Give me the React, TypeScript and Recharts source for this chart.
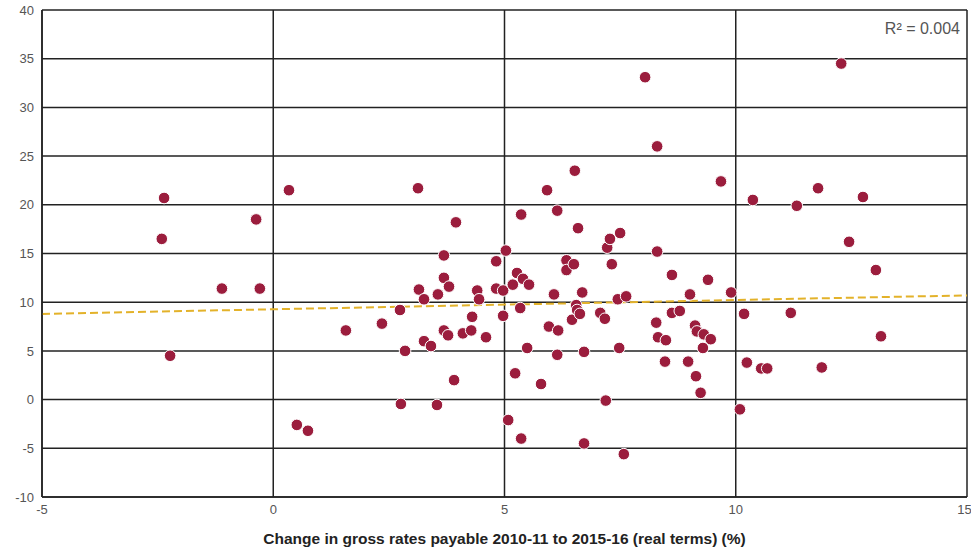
import React from 'react';
import { ScatterChart, Scatter, XAxis, YAxis, CartesianGrid, ReferenceLine } from 'recharts';

// change in gross rates payable (x, %) for each authority
const rateChange = [
  -2.36, -2.41, -2.23, -1.11, -0.37, -0.29, 0.34, 0.51, 0.75, 1.57,
  2.35, 2.74, 2.76, 2.85, 3.13, 3.15, 3.26, 3.26, 3.41, 3.54,
  3.56, 3.69, 3.69, 3.69, 3.78, 3.8, 3.91, 3.95, 4.1, 4.28,
  4.3, 4.41, 4.45, 4.6, 4.82, 4.82, 4.97, 4.97, 5.03, 5.08,
  5.18, 5.23, 5.27, 5.34, 5.36, 5.36, 5.4, 5.49, 5.53, 5.79,
  5.92, 5.96, 6.07, 6.14, 6.14, 6.16, 6.34, 6.34, 6.5, 6.46,
  6.52, 6.55, 6.57, 6.59, 6.63, 6.68, 6.72, 6.72, 7.07, 7.17,
  7.19, 7.22, 7.28, 7.32, 7.45, 7.48, 7.5, 7.58, 7.63, 8.04,
  8.3, 8.3, 8.28, 8.32, 8.47, 8.49, 8.62, 8.62, 8.79, 8.97,
  9.01, 9.12, 9.14, 9.16, 9.24, 9.29, 9.31, 9.4, 9.46, 9.68,
  9.9, 10.09, 10.18, 10.24, 10.37, 10.55, 10.68, 11.19, 11.32, 11.78,
  11.86, 12.28, 12.45, 12.75, 13.03, 13.14,
];

// matching y values (%)
const valueChange = [
  20.7, 16.5, 4.5, 11.4, 18.5, 11.4, 21.5, -2.6, -3.2, 7.1,
  7.8, 9.2, -0.45, 5.0, 21.7, 11.3, 10.3, 6.0, 5.5, -0.55,
  10.8, 14.8, 12.5, 7.1, 6.6, 11.6, 2.0, 18.2, 6.8, 7.1,
  8.5, 11.2, 10.3, 6.4, 14.2, 11.4, 11.2, 8.6, 15.3, -2.1,
  11.8, 2.7, 13.0, 9.4, 19.0, -4.0, 12.4, 5.3, 11.8, 1.6,
  21.5, 7.5, 10.8, 4.6, 19.4, 7.1, 14.3, 13.3, 13.9, 8.2,
  23.5, 9.7, 9.2, 17.6, 8.8, 11.0, 4.9, -4.5, 8.9, 8.3,
  -0.1, 15.6, 16.5, 13.9, 10.3, 5.3, 17.1, -5.6, 10.6, 33.1,
  26.0, 15.2, 7.9, 6.4, 3.9, 6.1, 12.8, 8.9, 9.1, 3.9,
  10.8, 7.6, 2.4, 7.0, 0.7, 5.3, 6.7, 12.3, 6.2, 22.4,
  11.0, -1.0, 8.8, 3.8, 20.5, 3.2, 3.2, 8.9, 19.9, 21.7,
  3.3, 34.5, 16.2, 20.8, 13.3, 6.5,
];

const xTicks = [-5, 0, 5, 10, 15];
const yTicks = [-10, -5, 0, 5, 10, 15, 20, 25, 30, 35, 40];

// fitted trend line end points
const trendX = [-5, 15];
const trendY = [8.8, 10.7];
const rSquared = '0.004';

const points = rateChange.map((x, i) => ({ x, y: valueChange[i] }));

const font = '"Liberation Sans", Arial, sans-serif';
const tickStyle = { fill: '#555', fontSize: 13, fontFamily: font };

const Dot = (props: any) => (
  <circle cx={props.cx} cy={props.cy} r={5.8} fill="#9b1d3d" stroke="#fff" strokeWidth={1} />
);

export default function App() {
  return (
    <div style={{ position: 'absolute', left: 0, top: 0, width: 971, height: 547, background: '#fff' }}>
      <ScatterChart width={971} height={547} margin={{ top: 10, right: 4, bottom: 0, left: 0 }}>
        <CartesianGrid stroke="#222" strokeWidth={1.5} />
        <XAxis
          type="number"
          dataKey="x"
          domain={[-5, 15]}
          ticks={xTicks}
          height={50}
          tickLine={false}
          axisLine={{ stroke: '#222', strokeWidth: 1.5 }}
          tick={tickStyle}
          label={{
            value: 'Change in gross rates payable 2010-11 to 2015-16 (real terms) (%)',
            position: 'insideBottom',
            offset: 3,
            style: { fill: '#222', fontSize: 15.5, fontWeight: 'bold', fontFamily: font },
          }}
        />
        <YAxis
          type="number"
          dataKey="y"
          domain={[-10, 40]}
          ticks={yTicks}
          width={42}
          tickLine={false}
          axisLine={{ stroke: '#222', strokeWidth: 1.5 }}
          tick={tickStyle}
        />
        <ReferenceLine
          segment={[
            { x: trendX[0], y: trendY[0] },
            { x: trendX[1], y: trendY[1] },
          ]}
          stroke="#e3b22a"
          strokeWidth={2}
          strokeDasharray="8 4"
        />
        <Scatter data={points} shape={Dot} isAnimationActive={false} />
      </ScatterChart>
      <div
        style={{
          position: 'absolute',
          right: 11,
          top: 20,
          fontFamily: font,
          fontSize: 16,
          color: '#555',
        }}
      >
        R² = {rSquared}
      </div>
    </div>
  );
}
